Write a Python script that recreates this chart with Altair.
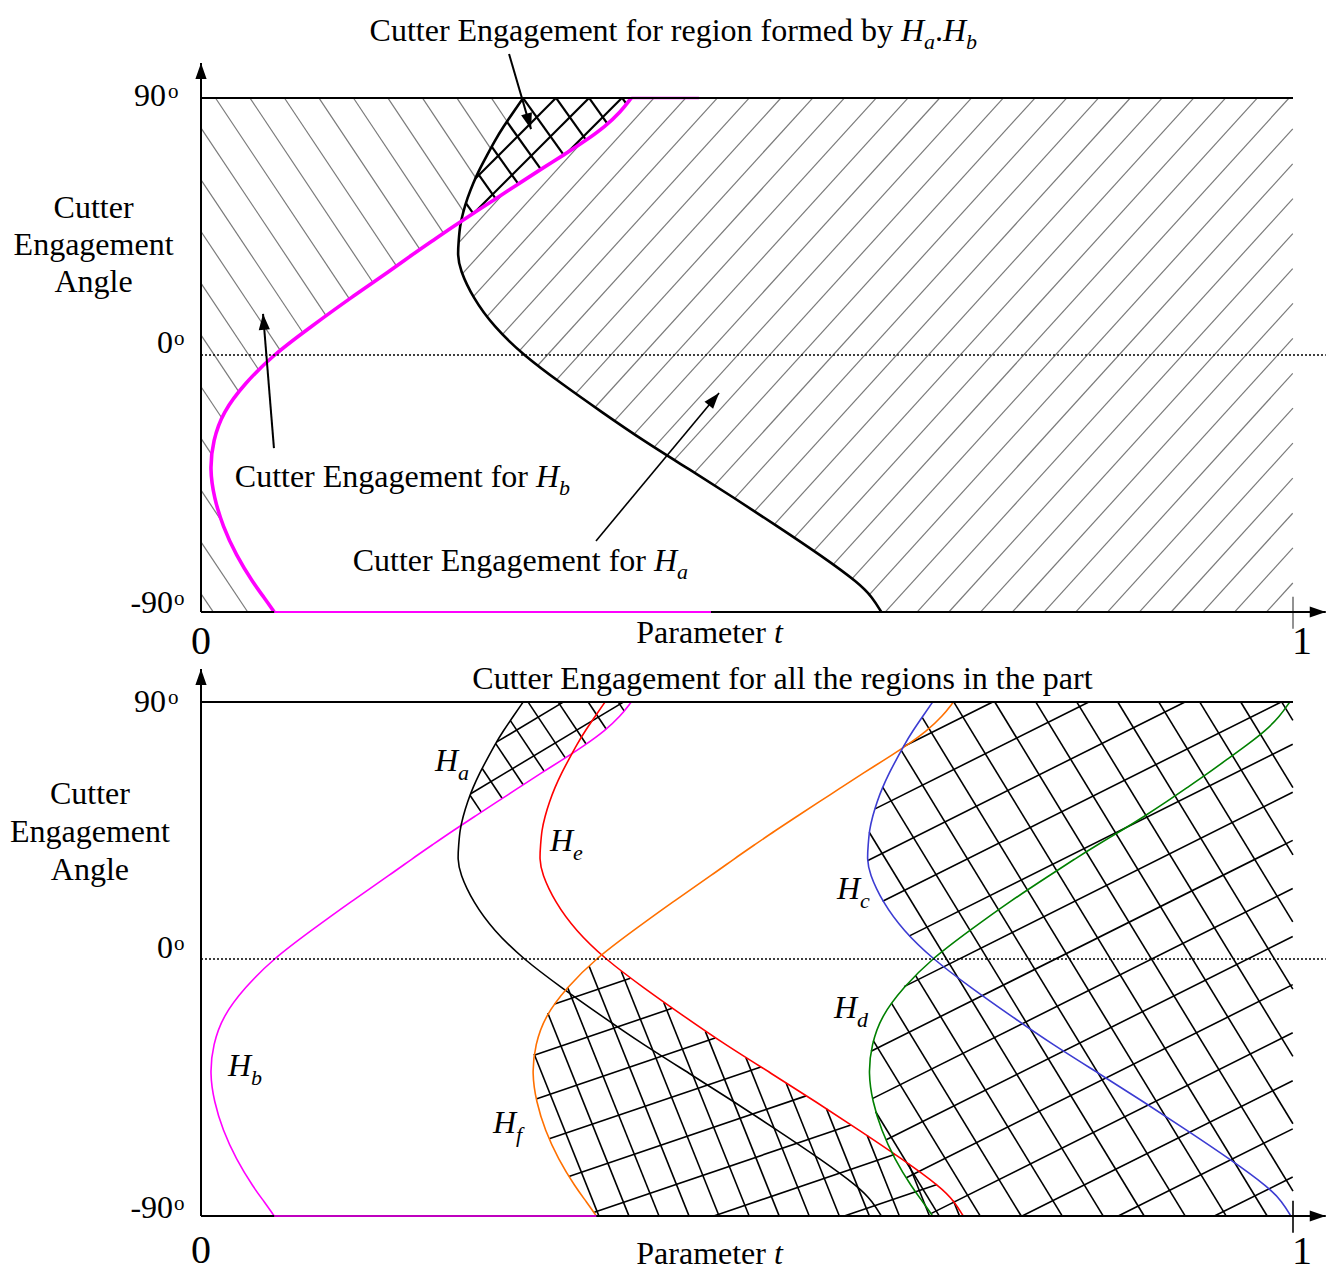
import altair as alt
import numpy as np
import pandas as pd

# ---------------- values ----------------
# Cutter engagement angle (deg) and parameter t of every boundary curve
ANGLE = [90, 85, 80, 75, 70, 65, 60, 55, 50, 45, 40, 35, 30, 20, 10, 0,
         -10, -20, -30, -40, -50, -60, -70, -80, -85, -90]
H_B = [0.394, 0.384, 0.370, 0.352, 0.332, 0.311, 0.291, 0.271, 0.251, 0.231, 0.212, 0.193, 0.175,
       0.137, 0.101, 0.066, 0.040, 0.020, 0.011, 0.008, 0.012, 0.020, 0.032, 0.048, 0.058, 0.067]
H_A = [0.295, 0.286, 0.277, 0.269, 0.262, 0.255, 0.249, 0.244, 0.240, 0.237, 0.236, 0.235, 0.237,
       0.249, 0.268, 0.295, 0.330, 0.367, 0.405, 0.447, 0.488, 0.528, 0.567, 0.603, 0.615, 0.623]
H_E = [0.370, 0.361, 0.352, 0.344, 0.337, 0.330, 0.324, 0.319, 0.315, 0.312, 0.311, 0.310, 0.312,
       0.324, 0.343, 0.370, 0.405, 0.442, 0.480, 0.522, 0.563, 0.603, 0.642, 0.678, 0.690, 0.698]
H_F = [0.689, 0.679, 0.665, 0.647, 0.627, 0.606, 0.586, 0.566, 0.546, 0.526, 0.507, 0.488, 0.470,
       0.432, 0.396, 0.361, 0.335, 0.315, 0.306, 0.303, 0.307, 0.315, 0.327, 0.343, 0.353, 0.362]
H_C = [0.670, 0.661, 0.652, 0.644, 0.637, 0.630, 0.624, 0.619, 0.615, 0.612, 0.611, 0.610, 0.612,
       0.624, 0.643, 0.670, 0.705, 0.742, 0.780, 0.822, 0.863, 0.903, 0.942, 0.978, 0.990, 0.998]
H_D = [0.997, 0.988, 0.975, 0.958, 0.940, 0.922, 0.903, 0.884, 0.864, 0.843, 0.821, 0.800, 0.780,
       0.740, 0.704, 0.669, 0.643, 0.623, 0.614, 0.611, 0.615, 0.623, 0.635, 0.651, 0.661, 0.670]
CURVES = {"Hb": H_B, "Ha": H_A, "He": H_E, "Hf": H_F, "Hc": H_C, "Hd": H_D}
COLORS = {"Hb": "#ff00ff", "Ha": "#000000", "He": "#ff0000", "Hf": "#ff7000",
          "Hc": "#3c3cd2", "Hd": "#008000"}
# horizontal stretches where an engagement stays at +-90 deg: (curve, t from, t to, angle)
EDGES_TOP = [("Hb", 0.394, 0.456, 90), ("Hb", 0.067, 0.467, -90)]
EDGES_BOTTOM = [("Hb", 0.067, 0.362, -90)]

W, H = 1092, 514
FONT = "Liberation Serif"


def fn(vals):
    a = np.array(ANGLE[::-1], float)
    v = np.array(vals[::-1], float)
    return lambda th: np.interp(th, a, v)


fB, fA, fE, fF, fC, fD = (fn(CURVES[k]) for k in ["Hb", "Ha", "He", "Hf", "Hc", "Hd"])


def hatch(mask, slope, spacing, t0, a0):
    """Parallel hatch lines (screen slope, px spacing) clipped to a region of the t/angle plane."""
    ang = np.arctan(slope)
    d = np.array([np.cos(ang), np.sin(ang)])
    n = np.array([-np.sin(ang), np.cos(ang)])
    p0 = np.array([t0 * W, (90 - a0) / 180 * H])
    c0 = p0 @ n
    cs = np.array([[0, 0], [W, 0], [0, H], [W, H]], float) @ n
    k0 = int(np.floor((cs.min() - c0) / spacing)) - 1
    k1 = int(np.ceil((cs.max() - c0) / spacing)) + 1
    L = np.hypot(W, H)
    s = np.arange(-L, L, 0.5)
    rows = []
    for k in range(k0, k1 + 1):
        c = c0 + k * spacing
        u = c * n[0] + s * d[0]
        v = c * n[1] + s * d[1]
        ins = (u >= 0) & (u <= W) & (v >= 0) & (v <= H)
        t = u / W
        a = 90 - v / H * 180
        m = ins & mask(t, a)
        e = np.diff(np.concatenate([[0], m.astype(int), [0]]))
        st = np.flatnonzero(e == 1)
        en = np.flatnonzero(e == -1) - 1
        for i, j in zip(st, en):
            if j - i >= 2:
                rows.append({"t": t[i], "a": a[i], "t2": t[j], "a2": a[j]})
    return pd.DataFrame(rows)


XS = alt.Scale(domain=[0, 1], nice=False, zero=False)
YS = alt.Scale(domain=[-90, 90], nice=False, zero=False)


def X(f):
    return alt.X(f, type="quantitative", scale=XS, axis=None)


def Y(f):
    return alt.Y(f, type="quantitative", scale=YS, axis=None)


def seg_layer(df, color, width, dash=None):
    kw = dict(color=color, strokeWidth=width)
    if dash:
        kw["strokeDash"] = dash
    return alt.Chart(df).mark_rule(**kw).encode(x=X("t"), y=Y("a"), x2="t2:Q", y2="a2:Q")


CSCALE = alt.Scale(domain=list(COLORS), range=list(COLORS.values()))


def curve_layer(names, width):
    rows = []
    for nm in names:
        for i, (a, t) in enumerate(zip(ANGLE, CURVES[nm])):
            rows.append({"curve": nm, "i": i, "t": t, "a": a})
    return alt.Chart(pd.DataFrame(rows)).mark_line(
        interpolate="basis", strokeWidth=width).encode(
        x=X("t"), y=Y("a"), color=alt.Color("curve:N", scale=CSCALE, legend=None),
        detail="curve:N", order="i:Q")


def edge_layer(edges, width):
    df = pd.DataFrame([{"curve": c, "t": t1, "t2": t2, "a": a, "a2": a} for c, t1, t2, a in edges])
    return alt.Chart(df).mark_rule(strokeWidth=width).encode(
        x=X("t"), y=Y("a"), x2="t2:Q", y2="a2:Q",
        color=alt.Color("curve:N", scale=CSCALE, legend=None))


STYLES = {
    "roman_l": dict(fontSize=32, align="left"),
    "roman_r": dict(fontSize=32, align="right"),
    "roman_c": dict(fontSize=32, align="center"),
    "ital": dict(fontSize=32, align="left", fontStyle="italic"),
    "sub": dict(fontSize=22, align="left", fontStyle="italic"),
    "sup": dict(fontSize=21, align="left"),
    "big": dict(fontSize=40, align="center"),
}


def P(t, a, text, style, dx=0, dy=0):
    return (t + dx / W, a - dy * 180 / H, text, style)


def text_layers(pieces):
    df = pd.DataFrame(pieces, columns=["t", "a", "text", "style"])
    out = []
    for st, g in df.groupby("style"):
        out.append(alt.Chart(g).mark_text(font=FONT, baseline="alphabetic", color="black",
                                          **STYLES[st]).encode(x=X("t"), y=Y("a"), text="text:N"))
    return out


HEAD = "M0,0L-0.7,2L0.7,2Z"


def arrow_layers(arrows):
    lines = pd.DataFrame([{"t": a[0], "a": a[1], "t2": a[2], "a2": a[3], "w": a[4]} for a in arrows])
    heads = []
    for t1, a1, t2, a2, _ in arrows:
        dx = (t2 - t1) * W
        dy = -(a2 - a1) * H / 180
        heads.append({"t": t2, "a": a2, "ang": float(np.degrees(np.arctan2(dx, -dy)) % 360)})
    out = []
    for w, g in lines.groupby("w"):
        out.append(seg_layer(g, "black", float(w)))
    out.append(alt.Chart(pd.DataFrame(heads)).mark_point(
        shape=HEAD, filled=True, size=256, color="black", opacity=1, strokeWidth=0).encode(
        x=X("t"), y=Y("a"), angle=alt.Angle("ang:Q", scale=None)))
    return out


def frame(tip_a, tick_color):
    return [
        seg_layer(pd.DataFrame([{"t": 0, "a": 0, "t2": 1.03, "a2": 0}]), "black", 1.3, [2, 2]),
        seg_layer(pd.DataFrame([{"t": 0, "a": 90, "t2": 1, "a2": 90}]), "black", 2),
        seg_layer(pd.DataFrame([{"t": 1, "a": -84.7, "t2": 1, "a2": -95.9}]), tick_color, 1.6),
    ] + arrow_layers([(0, -90, 0, tip_a, 2), (0, -90, 1.03, -90, 2)])


# ---------------- top panel ----------------
b_only = lambda t, a: (t < fB(a)) & (t < fA(a))
a_only = lambda t, a: (t > fA(a)) & (t > fB(a))
both = lambda t, a: (t > fA(a)) & (t < fB(a))

top_layers = [
    seg_layer(hatch(b_only, 1.5, 28.7, 0.1712, 90), "#7a7a7a", 1.2),
    seg_layer(hatch(a_only, -1.1, 23.5, 0.6474, 90), "#7a7a7a", 1.2),
    seg_layer(hatch(both, -1.0, 23.3, 0.2949, 90), "black", 2.2),
    seg_layer(hatch(both, 1.4, 26.9, 0.2949, 90), "black", 2.2),
    edge_layer(EDGES_TOP[:1], 2.5),
    curve_layer(["Ha"], 2.6),
    curve_layer(["Hb"], 3.6),
] + frame(102.3, "#777777") + [edge_layer(EDGES_TOP[1:], 2)]

top_text = [
    P(0.6410, 110.0, "Cutter Engagement for region formed by", "roman_r", -8),
    P(0.6410, 110.0, "H", "ital"), P(0.6410, 110.0, "a", "sub", 23, 8),
    P(0.6410, 110.0, ".", "roman_l", 34), P(0.6410, 110.0, "H", "ital", 42),
    P(0.6410, 110.0, "b", "sub", 65, 8),
    P(0.3068, -46.2, "Cutter Engagement for", "roman_r", -8),
    P(0.3068, -46.2, "H", "ital"), P(0.3068, -46.2, "b", "sub", 23, 8),
    P(0.4148, -75.6, "Cutter Engagement for", "roman_r", -8),
    P(0.4148, -75.6, "H", "ital"), P(0.4148, -75.6, "a", "sub", 23, 8),
    P(0.5247, -100.9, "Parameter", "roman_r", -8), P(0.5247, -100.9, "t", "ital"),
    P(0, -104.7, "0", "big"), P(1.0082, -104.7, "1", "big"),
    P(-0.0984, 48.0, "Cutter", "roman_c"), P(-0.0984, 35.0, "Engagement", "roman_c"),
    P(-0.0984, 22.1, "Angle", "roman_c"),
    P(-0.0321, 87.2, "90", "roman_r"), P(-0.0302, 90.0, "o", "sup"),
    P(-0.0256, 0.7, "0", "roman_r"), P(-0.0247, 3.5, "o", "sup"),
    P(-0.0256, -90.35, "-90", "roman_r"), P(-0.0247, -87.5, "o", "sup"),
]
top_arrows = [(0.2821, 105.4, 0.3022, 79.1, 2), (0.0668, -32.6, 0.0568, 14.4, 2),
              (0.3617, -65.1, 0.4744, -13.3, 1.6)]
anchor = alt.Chart(pd.DataFrame([{"t": -0.1758, "a": 121.17}])).mark_point(
    size=1, opacity=0).encode(x=X("t"), y=Y("a"))

top = alt.layer(*(top_layers + text_layers(top_text) + arrow_layers(top_arrows) + [anchor])
                ).properties(width=W, height=H)

# ---------------- bottom panel ----------------
R2 = lambda t, a: (t > fF(a)) & (t < fE(a))
R3 = lambda t, a: t > np.minimum(fC(a), fD(a))

bot_layers = [
    seg_layer(hatch(both, -0.6, 31, 0.2436, 57.1), "black", 1.6),
    seg_layer(hatch(both, 1.5, 25, 0.2848, 82.65), "black", 1.6),
    seg_layer(hatch(R2, -0.34, 42, 0.3233, -15.8), "black", 1.6),
    seg_layer(hatch(R2, 2.5, 27.9, 0.3919, -90), "black", 1.6),
    seg_layer(hatch(R3, -0.5, 43, 0.7326, 57.8), "black", 1.6),
    seg_layer(hatch(R3, 1.64, 35, 0.8086, 62.3), "black", 1.6),
    curve_layer(["Hb", "Ha", "He", "Hf", "Hc", "Hd"], 1.6),
] + frame(101.6, "black") + [edge_layer(EDGES_BOTTOM, 1.4)]

bot_text = [
    P(0.5325, 94.55, "Cutter Engagement for all the regions in the part", "roman_c"),
    P(-0.1017, 54.3, "Cutter", "roman_c"), P(-0.1017, 41.0, "Engagement", "roman_c"),
    P(-0.1017, 27.7, "Angle", "roman_c"),
    P(-0.0321, 86.5, "90", "roman_r"), P(-0.0302, 89.3, "o", "sup"),
    P(-0.0256, 0.35, "0", "roman_r"), P(-0.0247, 3.15, "o", "sup"),
    P(-0.0256, -90.7, "-90", "roman_r"), P(-0.0247, -87.9, "o", "sup"),
    P(0, -106.5, "0", "big"), P(1.0082, -106.8, "1", "big"),
    P(0.5247, -106.8, "Parameter", "roman_r", -8), P(0.5247, -106.8, "t", "ital"),
]
for sub, t, a in [("a", 0.2143, 65.8), ("e", 0.3196, 37.8), ("c", 0.5824, 21.0),
                  ("d", 0.5797, -20.7), ("f", 0.2674, -60.9), ("b", 0.0247, -41.0)]:
    bot_text += [P(t, a, "H", "ital"), P(t, a, sub, "sub", 23, 9)]

bottom = alt.layer(*(bot_layers + text_layers(bot_text))).properties(width=W, height=H)

chart = alt.vconcat(top, bottom, spacing=90, bounds="flush").properties(
    padding=0, background="white").configure_view(stroke=None)

chart.save("out.html", embed_options={"renderer": "svg", "actions": False})
